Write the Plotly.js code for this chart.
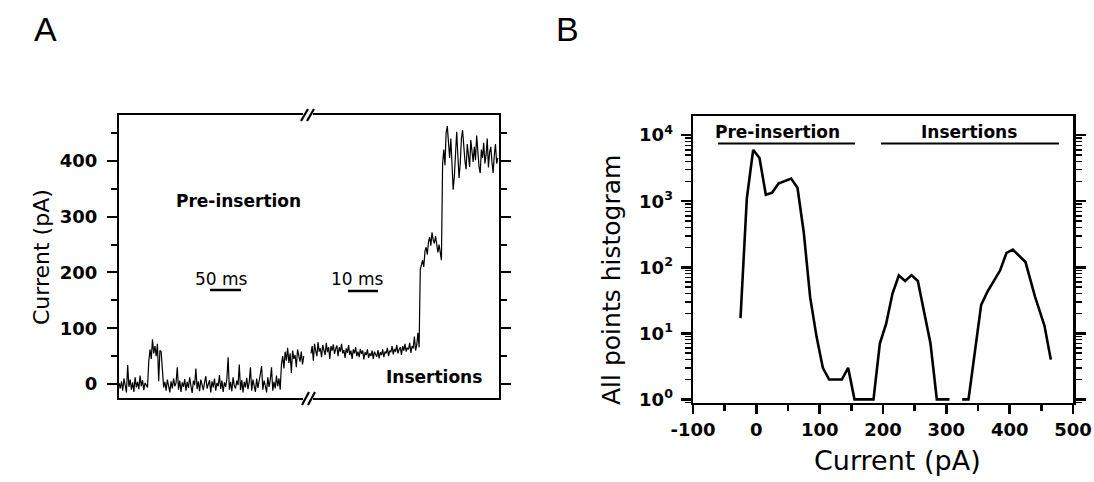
<!DOCTYPE html>
<html>
<head>
<meta charset="utf-8">
<script src="https://cdn.plot.ly/plotly-3.0.1.min.js"></script>
<style>html,body{margin:0;padding:0;background:#fff;}#chart{width:1094px;height:482px;}</style>
</head>
<body>
<div id="chart"></div>
<script>
// ---------- Panel A: current trace (pA), pre-insertion segment ----------
const traceA_pre = [
  2,-8,5,-12,10,-3,-15,34,-5,8,-10,3,-14,12,-6,4,-9,15,-4,7,-11,2,-2,-6,
  40,62,45,80,55,68,50,72,5,60,58,20,
  -6,4,-12,8,-3,-15,5,-8,10,-4,
  2,30,-10,6,-14,3,-5,9,-12,4,
  -7,12,-3,-16,6,-2,28,-9,5,-13,
  8,-4,-11,3,14,-8,-2,7,-15,5,
  -6,10,-12,2,-4,16,-9,6,-14,3,
  -5,9,48,-10,4,-13,12,-3,-8,6,
  -2,35,-11,7,-15,4,-6,11,-9,3,
  30,-12,8,-4,-14,10,-7,5,18,32,
  -10,6,-3,-15,12,-5,8,30,-12,4,
  -8,15,-4,10,-10,
  35,50,28,58,42,65,38,55,20,60,45,52,30,62,48,40,58,35,50
];
// ---------- Panel A: current trace (pA), insertion segment ----------
const traceA_ins = [
  55,68,42,72,60,50,75,58,64,48,
  70,62,52,74,57,66,45,68,60,71,
  54,63,69,50,66,58,72,55,61,47,
  64,56,70,52,60,45,62,55,66,50,
  58,48,63,54,60,44,57,52,62,47,
  55,50,60,45,58,53,49,61,46,57,
  52,62,48,58,55,65,50,60,57,68,
  53,63,58,70,55,62,66,52,68,60,
  72,58,65,62,74,56,68,64,85,60,
  70,92,66,
  205,215,222,210,238,245,232,255,263,248,272,258,252,265,244,236,250,230,222,
  395,420,392,450,462,432,405,440,380,348,372,420,452,410,369,395,440,455,418,400,
  385,430,410,389,437,415,398,425,401,445,412,390,378,420,405,432,395,410,440,388,
  415,425,398,378,410,430,395,405
];
// time base of the broken axis (display units)
const preStart = 0, preStep = 1.24;
const insStart = 192, insStep = 1.175;
const aYTicks = [0, 100, 200, 300, 400];

// ---------- Panel B: all points histogram ----------
const histCurrent = [-25,-15,-5,5,15,25,35,55,65,75,85,95,105,115,135,145,155,185,195,205,215,225,235,245,255,265,275,285,305,315,325,335,355,365,385,395,405,425,440,455,465];
const histCount   = [17,1100,6000,4500,1250,1350,1850,2200,1600,330,35,9,3,2,2,3,1,1,7,14,40,75,62,76,62,22,7,1,1,null,1,1,27,43,90,165,185,120,36,13,4];
const bYTickVals = [1, 10, 100, 1000, 10000];
const bYTickText = ['10<sup>0</sup>','10<sup>1</sup>','10<sup>2</sup>','10<sup>3</sup>','10<sup>4</sup>'];
const bXTicks = [-100, 0, 100, 200, 300, 400, 500];
const bXTickText = ['-100', '0', '100', '200', '300', '400', '500'];

// ---------- build ----------
const W = 1094, H = 482;
const px = x => x / W;
const py = y => 1 - y / H;

const xPre = traceA_pre.map((_, i) => preStart + i * preStep);
const xIns = traceA_ins.map((_, i) => insStart + i * insStep);

const boldFont = {family: 'DejaVu Sans', size: 17, color: '#000', weight: 'bold'};
const tickFont = {family: 'DejaVu Sans', size: 18, color: '#000', weight: 'bold'};

const data = [
  {x: xPre, y: traceA_pre, type: 'scatter', mode: 'lines', line: {color: '#000', width: 1.2}, xaxis: 'x', yaxis: 'y', hoverinfo: 'skip'},
  {x: xIns, y: traceA_ins, type: 'scatter', mode: 'lines', line: {color: '#000', width: 1.2}, xaxis: 'x', yaxis: 'y', hoverinfo: 'skip'},
  {x: histCurrent, y: histCount, type: 'scatter', mode: 'lines', line: {color: '#000', width: 2.6}, connectgaps: false, xaxis: 'x2', yaxis: 'y2', hoverinfo: 'skip'}
];

const line = (x0, y0, x1, y1, w) => ({type: 'line', xref: 'paper', yref: 'paper', x0: px(x0), y0: py(y0), x1: px(x1), y1: py(y1), line: {color: '#000', width: w}});
const mask = (x0, y0, x1, y1) => ({type: 'rect', xref: 'paper', yref: 'paper', x0: px(x0), y0: py(y0), x1: px(x1), y1: py(y1), fillcolor: '#fff', line: {width: 0}});

const shapes = [
  // axis breaks
  mask(303, 112, 313, 118),
  line(301, 121, 308, 109, 2.2), line(307, 121, 314, 109, 2.2),
  mask(303, 395, 313, 401),
  line(302, 405, 309, 392, 2.2), line(308, 405, 315, 392, 2.2),
  // scale bars
  line(210, 290, 241, 290, 2.5),
  line(348, 291, 378, 291, 2.5),
  // panel B group bars
  line(718, 143.5, 855, 143.5, 2),
  line(881, 143.5, 1059, 143.5, 2)
];

const ann = (text, x, y, font, extra) => Object.assign({text, x: px(x), y: py(y), xref: 'paper', yref: 'paper', showarrow: false, xanchor: 'center', yanchor: 'middle', font}, extra || {});
const annotations = [
  ann('A', 45, 29, {family: 'Liberation Sans', size: 34, color: '#000'}),
  ann('B', 567, 29, {family: 'Liberation Sans', size: 34, color: '#000'}),
  ann('Current (pA)', 41, 257, {family: 'DejaVu Sans', size: 22, color: '#000'}, {textangle: -90}),
  ann('All points histogram', 611, 280, {family: 'DejaVu Sans', size: 25, color: '#000'}, {textangle: -90}),
  ann('Current (pA)', 897, 460, {family: 'DejaVu Sans', size: 27, color: '#000'}),
  ann('Pre-insertion', 239, 201, boldFont),
  ann('Insertions', 434, 377, boldFont),
  ann('50 ms', 221, 279, {family: 'DejaVu Sans', size: 17, color: '#000'}),
  ann('10 ms', 357, 279, {family: 'DejaVu Sans', size: 17, color: '#000'}),
  ann('Pre-insertion', 777, 132, boldFont),
  ann('Insertions', 969, 132, boldFont)
];

const layout = {
  width: W, height: H,
  margin: {l: 0, r: 0, t: 0, b: 0},
  paper_bgcolor: '#fff', plot_bgcolor: '#fff',
  showlegend: false,
  xaxis: {domain: [px(119), px(499)], range: [0, 380], anchor: 'y', showline: true, linewidth: 2, linecolor: '#000', mirror: true, ticks: '', showticklabels: false, showgrid: false, zeroline: false, automargin: false},
  xaxis3: {overlaying: 'x', side: 'top', anchor: 'y', range: [0, 380], tickmode: 'array', tickvals: [13, 43, 71, 99, 128, 156, 226, 256, 286, 318, 348], ticks: 'outside', ticklen: 4, tickwidth: 1.5, tickcolor: '#000', showticklabels: false, showline: false, showgrid: false, zeroline: false, automargin: false},
  yaxis: {domain: [py(398), py(115)], range: [-25, 482], anchor: 'x', tickmode: 'array', tickvals: aYTicks, ticks: 'outside', ticklen: 10, tickwidth: 2, tickcolor: '#000', ticklabelstandoff: 6,
    minor: {dtick: 50, tick0: 0, ticks: 'outside', ticklen: 6, tickwidth: 2, tickcolor: '#000', showgrid: false},
    showline: true, linewidth: 2, linecolor: '#000', mirror: 'ticks', showgrid: false, zeroline: false, tickfont: tickFont, automargin: false},
  xaxis2: {domain: [px(693), px(1073)], range: [-100, 500], anchor: 'y2', tickmode: 'array', tickvals: bXTicks, ticktext: bXTickText, ticks: 'outside', ticklen: 9, tickwidth: 2.5, tickcolor: '#000',
    minor: {dtick: 50, tick0: 0, ticks: 'outside', ticklen: 6, tickwidth: 2.5, tickcolor: '#000', showgrid: false},
    showline: true, linewidth: 2.5, linecolor: '#000', mirror: true, showgrid: false, zeroline: false, tickfont: tickFont, automargin: false},
  yaxis2: {domain: [py(402.7), py(116)], type: 'log', range: [-0.05, 4.29], anchor: 'x2', tickmode: 'array', tickvals: bYTickVals, ticktext: bYTickText, ticks: 'outside', ticklen: 10, tickwidth: 2.5, tickcolor: '#000', ticklabelstandoff: 4,
    minor: {tickmode: 'linear', dtick: 'D1', ticks: 'outside', ticklen: 6, tickwidth: 1.5, tickcolor: '#000', showgrid: false},
    showline: true, linewidth: 2.5, linecolor: '#000', mirror: 'ticks', showgrid: false, zeroline: false, tickfont: tickFont, automargin: false},
  shapes, annotations
};

Plotly.newPlot('chart', data, layout, {staticPlot: true, displayModeBar: false});
</script>
</body>
</html>
